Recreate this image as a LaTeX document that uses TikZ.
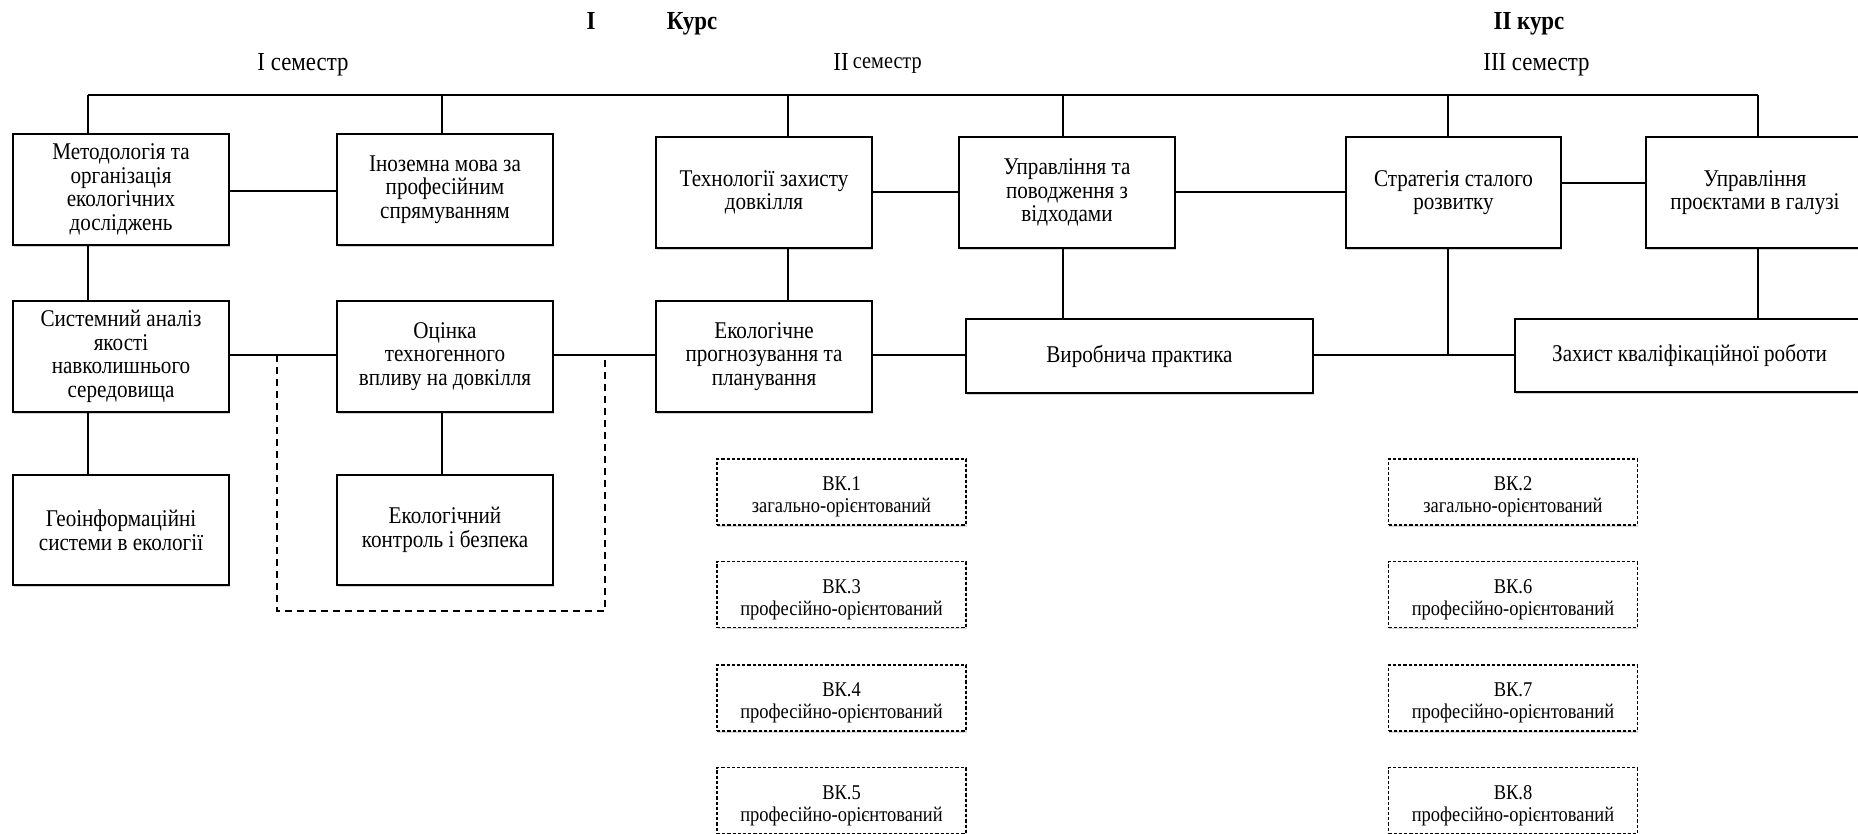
\documentclass[tikz,border=0pt]{standalone}
\usepackage{fontspec}
\setmainfont[FakeStretch=0.88]{Liberation Serif}
\usetikzlibrary{shadows}
\newcommand{\boxfont}{\fontsize{12pt}{11.8pt}\selectfont}
\newcommand{\vkfont}{\fontsize{10.5pt}{10.8pt}\selectfont}
\newcommand{\ttlfont}{\fontsize{13pt}{13pt}\selectfont}
\newcommand{\vkstrut}{\rule{0pt}{12pt}}
\tikzset{
  wh/.style 2 args={minimum width=#1*0.5pt, minimum height=#2*0.5pt},
  box/.style={draw, line width=1pt, fill=white, align=center, inner sep=0pt,
    font=\boxfont, drop shadow={shadow xshift=0.5pt, shadow yshift=-0.8pt, opacity=0.35}},
  vkbox/.style={draw, line width=0.8pt, dash pattern=on 1.6pt off 1pt, fill=white,
    align=center, inner sep=0pt, font=\vkfont, wh={249}{66},
    drop shadow={shadow xshift=0.3pt, shadow yshift=-0.8pt, opacity=0.3}},
  conn/.style={line width=0.8pt},
  grp/.style={line width=0.8pt, dash pattern=on 3.5pt off 2.5pt},
  ttl/.style={font=\ttlfont, inner sep=0pt, anchor=base},
}
\begin{document}
\begin{tikzpicture}[x=0.5pt, y=-0.5pt]
\useasboundingbox (0,0) rectangle (1858,834);
\clip (0,0) rectangle (1858,834);
\fill[white] (0,0) rectangle (1858,834);

% titles
\node[ttl, font=\ttlfont\bfseries] (t1) at (591,30) {I};
\node[ttl, font=\ttlfont\bfseries] (t2) at (692,30) {Курс};
\node[ttl, font=\ttlfont\bfseries] (t3) at (1529,30) {II курс};
\node[ttl] (s1t) at (303,71) {I семестр};
\node[ttl, anchor=base west] (s2t) at (833,71) {II\,\raisebox{1.2pt}{\fontsize{11.5pt}{11.5pt}\selectfont семестр}};
\node[ttl, anchor=base west] (s3t) at (1483,71) {III семестр};

% row 1
\node[box, wh={216}{111}] (m1) at (121,189.5) {Методологія та\\організація\\екологічних\\досліджень};
\node[box, wh={216}{111}] (m2) at (445,189.5) {Іноземна мова за\\професійним\\спрямуванням};
\node[box, wh={216}{111}] (m3) at (764,192.5) {Технології захисту\\довкілля};
\node[box, wh={216}{111}] (m4) at (1067,192.5) {Управління та\\поводження з\\відходами};
\node[box, wh={215}{111}] (m5) at (1453.5,192.5) {Стратегія сталого\\розвитку};
\node[box, wh={218}{111}] (m6) at (1755,192.5) {Управління\\проєктами в галузі};

% row 2
\node[box, wh={216}{111}] (r1) at (121,356.5) {Системний аналіз\\якості\\навколишнього\\середовища};
\node[box, wh={216}{111}] (r2) at (445,356.5) {Оцінка\\техногенного\\впливу на довкілля};
\node[box, wh={216}{111}] (r3) at (764,356.5) {Екологічне\\прогнозування та\\планування};
\node[box, wh={347}{74}] (r4) at (1139.5,356) {Виробнича практика};
\node[box, wh={349}{73}] (r5) at (1689.5,355.5) {Захист кваліфікаційної роботи};

% row 3
\node[box, wh={216}{110}] (g1) at (121,530) {Геоінформаційні\\системи в екології};
\node[box, wh={216}{110}] (g2) at (445,530) {Екологічний\\контроль і безпека};

% VK boxes
\node[vkbox] (vk1) at (841.5,492) {\vkstrut ВК.1\\загально-орієнтований};
\node[vkbox] (vk3) at (841.5,594.5) {\vkstrut ВК.3\\професійно-орієнтований};
\node[vkbox] (vk4) at (841.5,698) {\vkstrut ВК.4\\професійно-орієнтований};
\node[vkbox] (vk5) at (841.5,800.5) {\vkstrut ВК.5\\професійно-орієнтований};
\node[vkbox] (vk2) at (1513,492) {\vkstrut ВК.2\\загально-орієнтований};
\node[vkbox] (vk6) at (1513,594.5) {\vkstrut ВК.6\\професійно-орієнтований};
\node[vkbox] (vk7) at (1513,698) {\vkstrut ВК.7\\професійно-орієнтований};
\node[vkbox] (vk8) at (1513,800.5) {\vkstrut ВК.8\\професійно-орієнтований};

% top bus
\coordinate (b1) at (88,95);
\coordinate (b2) at (442,95);
\coordinate (b3) at (788,95);
\coordinate (b4) at (1063,95);
\coordinate (b5) at (1448,95);
\coordinate (b6) at (1758,95);
\draw[conn] (b1) -- (b6);
\draw[conn] (b1) -- (b1 |- m1.north);
\draw[conn] (b2) -- (b2 |- m2.north);
\draw[conn] (b3) -- (b3 |- m3.north);
\draw[conn] (b4) -- (b4 |- m4.north);
\draw[conn] (b5) -- (b5 |- m5.north);
\draw[conn] (b6) -- (b6 |- m6.north);

% row 1 horizontals
\draw[conn] (m1.east |- 0,191) -- (m2.west |- 0,191);
\draw[conn] (m3.east |- 0,192) -- (m4.west |- 0,192);
\draw[conn] (m4.east |- 0,192) -- (m5.west |- 0,192);
\draw[conn] (m5.east |- 0,183) -- (m6.west |- 0,183);

% verticals row 1 -> row 2
\draw[conn] (b1 |- m1.south) -- (b1 |- r1.north);
\draw[conn] (b3 |- m3.south) -- (b3 |- r3.north);
\draw[conn] (b4 |- m4.south) -- (b4 |- r4.north);
\coordinate (j5) at (1448,355);
\draw[conn] (b5 |- m5.south) -- (j5);
\draw[conn] (b6 |- m6.south) -- (b6 |- r5.north);

% row 2 horizontals
\draw[conn] (r1.east |- 0,355) -- (r2.west |- 0,355);
\draw[conn] (r2.east |- 0,355) -- (r3.west |- 0,355);
\draw[conn] (r3.east |- 0,355) -- (r4.west |- 0,355);
\draw[conn] (r4.east |- 0,355) -- (r5.west |- 0,355);

% row 2 -> row 3
\draw[conn] (b1 |- r1.south) -- (b1 |- g1.north);
\draw[conn] (b2 |- r2.south) -- (b2 |- g2.north);

% dashed group
\coordinate (d1) at (277,355);
\coordinate (d2) at (277,611);
\coordinate (d3) at (605,611);
\coordinate (d4) at (605,355);
\draw[grp] (d1) -- (d2) -- (d3) -- (d4);
\end{tikzpicture}
\end{document}
